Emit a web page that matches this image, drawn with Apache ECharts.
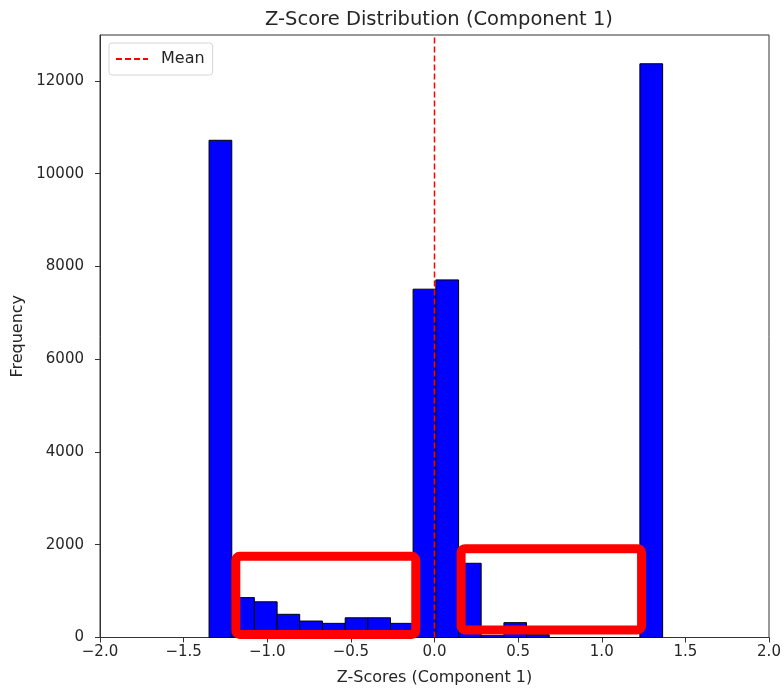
<!DOCTYPE html>
<html>
<head>
<meta charset="utf-8">
<script src="https://cdn.jsdelivr.net/npm/echarts@6/dist/echarts.min.js"></script>
<style>
  html, body { margin: 0; padding: 0; background: #fff; }
  #chart { width: 784px; height: 692px; }
</style>
</head>
<body>
<div id="chart"></div>
<script>
// Histogram bin edges (21 edges -> 20 bins)
var binEdges = [-1.348, -1.212, -1.077, -0.941, -0.806, -0.670, -0.534, -0.399, -0.263, -0.128,
                0.008, 0.144, 0.279, 0.415, 0.550, 0.686, 0.822, 0.957, 1.093, 1.228, 1.364];
// Counts per bin
var binCounts = [10720, 860, 770, 500, 355, 305, 425, 425, 305, 7510,
                 7710, 1600, 40, 320, 60, 0, 0, 0, 0, 12370];
// Mean of the z-scores
var meanValue = 0.0;
var yMax = 12990;
// Highlight boxes: [xStart, xEnd, yLow, yHigh] in data units
var highlightBoxes = [
  [-1.188, -0.112, 65, 1754],
  [0.159, 1.238, 162, 1916]
];

var font = 'DejaVu Sans';
var ink = '#262626';
var chart = echarts.init(document.getElementById('chart'), null, { renderer: 'canvas' });

var histData = binCounts.map(function (c, i) { return [binEdges[i], binEdges[i + 1], c]; });

chart.setOption({
  animation: false,
  textStyle: { fontFamily: font },
  title: {
    text: 'Z-Score Distribution (Component 1)',
    left: 434, top: 5, textAlign: 'center',
    textStyle: { fontFamily: font, fontSize: 19.5, fontWeight: 'normal', color: ink }
  },
  legend: {
    left: 109, top: 43,
    orient: 'vertical',
    data: ['Mean'],
    itemWidth: 32, itemHeight: 12, itemGap: 5,
    padding: [8, 8, 8, 6],
    borderColor: '#d6d6d6', borderWidth: 1, borderRadius: 3,
    itemStyle: { opacity: 0 },
    textStyle: { fontFamily: font, fontSize: 16, color: ink, padding: [0, 0, 0, 8] }
  },
  grid: { left: 100, right: 15, top: 35, bottom: 54.5, show: true, borderColor: '#333', borderWidth: 1 },
  xAxis: {
    type: 'value', min: -2.0, max: 2.0, interval: 0.5,
    name: 'Z-Scores (Component 1)', nameLocation: 'middle', nameGap: 32,
    nameTextStyle: { fontFamily: font, fontSize: 16, color: ink },
    axisLine: { show: true, lineStyle: { color: '#333' } },
    axisTick: { show: true, inside: false, length: 5, lineStyle: { color: '#333' } },
    splitLine: { show: false },
    axisLabel: { fontFamily: font, fontSize: 15, color: ink, margin: 7,
      formatter: function (v) { return (v < 0 ? '\u2212' : '') + Math.abs(v).toFixed(1); } }
  },
  yAxis: {
    type: 'value', min: 0, max: yMax, interval: 2000,
    name: 'Frequency', nameLocation: 'middle', nameGap: 72,
    nameTextStyle: { fontFamily: font, fontSize: 16, color: ink },
    axisLine: { show: true, onZero: false, lineStyle: { color: '#333' } },
    axisTick: { show: true, inside: false, length: 5, lineStyle: { color: '#333' } },
    splitLine: { show: false },
    axisLabel: { fontFamily: font, fontSize: 15, color: ink, margin: 16, showMaxLabel: false,
      formatter: function (v) { return String(v); } }
  },
  series: [
    {
      name: 'Histogram',
      type: 'custom',
      data: histData,
      encode: { x: [0, 1], y: 2 },
      renderItem: function (params, api) {
        var p0 = api.coord([api.value(0), 0]);
        var p1 = api.coord([api.value(1), api.value(2)]);
        return {
          type: 'rect',
          shape: { x: p0[0], y: p1[1], width: p1[0] - p0[0], height: p0[1] - p1[1] },
          style: { fill: '#0000ff', stroke: '#000', lineWidth: 1 }
        };
      },
      z: 2
    },
    {
      name: 'Mean',
      type: 'line',
      data: [[meanValue, 0], [meanValue, yMax]],
      symbol: 'none',
      lineStyle: { color: '#ff0000', width: 1.5, type: [6, 3] },
      itemStyle: { color: '#ff0000' },
      z: 3
    }
  ]
});

// Red highlight frames around the low-count regions
var frames = highlightBoxes.map(function (b) {
  var tl = chart.convertToPixel({ gridIndex: 0 }, [b[0], b[3]]);
  var br = chart.convertToPixel({ gridIndex: 0 }, [b[1], b[2]]);
  return {
    type: 'rect',
    shape: { x: tl[0], y: tl[1], width: br[0] - tl[0], height: br[1] - tl[1], r: 4 },
    style: { fill: null, stroke: '#ff0000', lineWidth: 9 },
    z: 10
  };
});
chart.setOption({ graphic: frames });
</script>
</body>
</html>
